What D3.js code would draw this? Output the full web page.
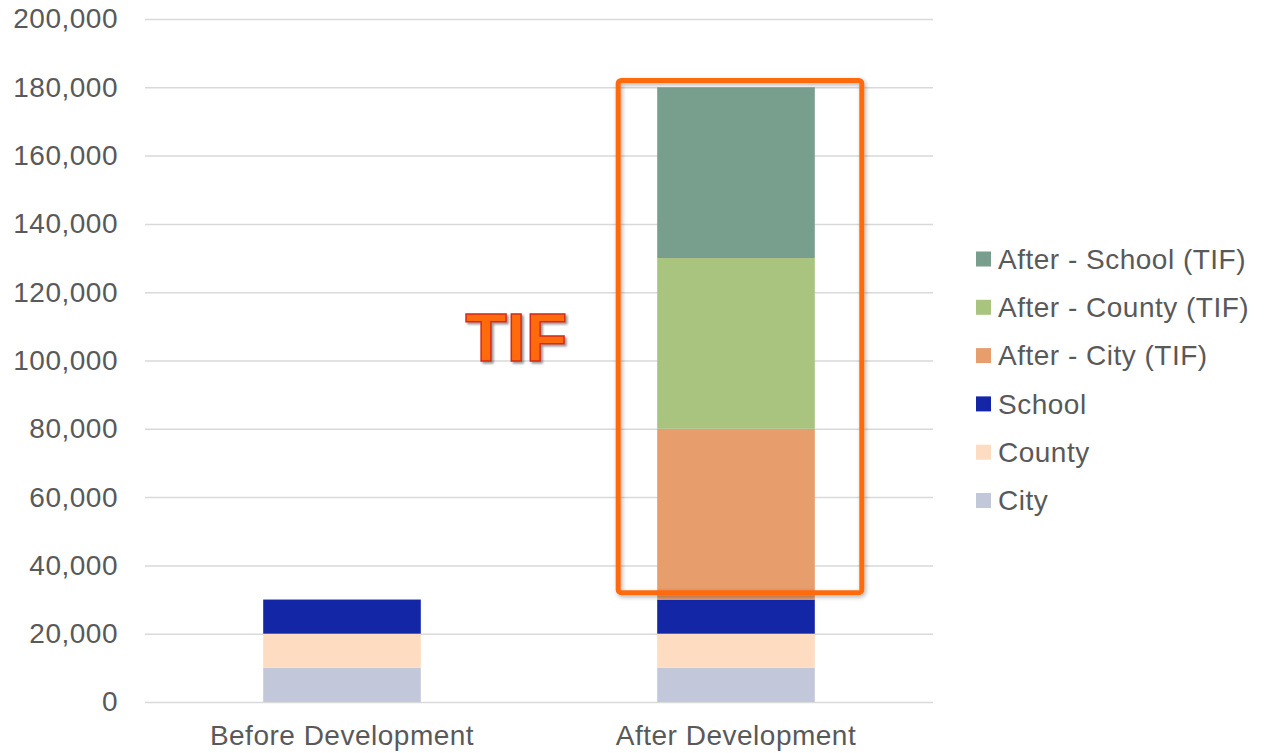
<!DOCTYPE html>
<html>
<head>
<meta charset="utf-8">
<script src="https://cdn.jsdelivr.net/npm/d3@7"></script>
<style>
  html, body { margin: 0; padding: 0; background: #fff; }
  svg { display: block; font-family: "Liberation Sans", Arial, sans-serif; }
</style>
</head>
<body>
<svg id="chart" width="1267" height="753"></svg>
<script>
const categories = ["Before Development", "After Development"];
const seriesNames = ["City", "County", "School", "After - City (TIF)", "After - County (TIF)", "After - School (TIF)"];
const seriesColors = ["#c2c7da", "#fddcc2", "#1226a6", "#e79d6c", "#a9c47f", "#789e8e"];
const cityValues = [10000, 10000];
const countyValues = [10000, 10000];
const schoolValues = [10000, 10000];
const afterCityValues = [0, 50000];
const afterCountyValues = [0, 50000];
const afterSchoolValues = [0, 50000];
const yTicks = [0, 20000, 40000, 60000, 80000, 100000, 120000, 140000, 160000, 180000, 200000];
const tifBox = { category: "After Development", from: 32000, to: 182000 };
const tifLabel = { text: "TIF", category: "After Development", value: 100000 };

const seriesValues = [cityValues, countyValues, schoolValues, afterCityValues, afterCountyValues, afterSchoolValues];
const table = categories.map((c, i) => {
  const row = { category: c };
  seriesNames.forEach((s, j) => row[s] = seriesValues[j][i]);
  return row;
});

const svg = d3.select("#chart");
const margin = { left: 145, right: 334, top: 19, bottom: 51 };
const W = 1267, H = 753;
const FS = 28, LS = "0.5px", TXT = "#595959";

const x = d3.scaleBand().domain(categories).range([margin.left, W - margin.right])
  .paddingInner(0.6).paddingOuter(0.3);
const y = d3.scaleLinear().domain([0, 200000]).range([H - margin.bottom, margin.top]);

const defs = svg.append("defs");
const f = defs.append("filter").attr("id", "shadow").attr("x", "-10%").attr("y", "-10%").attr("width", "130%").attr("height", "130%");
f.append("feDropShadow").attr("dx", 1.5).attr("dy", 2).attr("stdDeviation", 2).attr("flood-color", "#000").attr("flood-opacity", 0.3);
const f2 = defs.append("filter").attr("id", "tshadow").attr("x", "-10%").attr("y", "-10%").attr("width", "130%").attr("height", "130%");
f2.append("feDropShadow").attr("dx", 2).attr("dy", 2).attr("stdDeviation", 1).attr("flood-color", "#555").attr("flood-opacity", 0.6);

// grid
const yAxis = d3.axisLeft(y).tickValues(yTicks).tickFormat(d3.format(",")).tickSize(-(W - margin.right - margin.left)).tickPadding(27);
const gy = svg.append("g").attr("transform", `translate(${margin.left},0)`).call(yAxis);
gy.select(".domain").remove();
gy.selectAll(".tick line").attr("stroke", "#d9d9d9").attr("stroke-width", 1.5);
gy.selectAll(".tick text").attr("fill", TXT).attr("font-size", FS).attr("letter-spacing", LS)
  .attr("font-family", "Liberation Sans, Arial, sans-serif");

// bars
const stack = d3.stack().keys(seriesNames);
const stacked = stack(table);
svg.append("g").selectAll("g").data(stacked).join("g")
  .attr("fill", (d, i) => seriesColors[i])
  .selectAll("rect").data(d => d.filter(p => p[1] > p[0])).join("rect")
  .attr("x", d => x(d.data.category))
  .attr("width", x.bandwidth())
  .attr("y", d => y(d[1]))
  .attr("height", d => y(d[0]) - y(d[1]));

// x axis labels
const xAxis = d3.axisBottom(x).tickSize(0).tickPadding(23);
const gx = svg.append("g").attr("transform", `translate(0,${y(0)})`).call(xAxis);
gx.select(".domain").remove();
gx.selectAll(".tick text").attr("fill", TXT).attr("font-size", FS).attr("letter-spacing", LS)
  .attr("font-family", "Liberation Sans, Arial, sans-serif");

// TIF box
const bx0 = x(tifBox.category) - 39, bx1 = x(tifBox.category) + x.bandwidth() + 47;
svg.append("rect")
  .attr("x", bx0).attr("y", y(tifBox.to))
  .attr("width", bx1 - bx0).attr("height", y(tifBox.from) - y(tifBox.to))
  .attr("rx", 3)
  .attr("fill", "none").attr("stroke", "#ff6a10").attr("stroke-width", 5)
  .attr("filter", "url(#shadow)");

// TIF label
svg.append("text")
  .attr("x", x(tifLabel.category) - 90).attr("y", y(tifLabel.value) + 0)
  .attr("text-anchor", "end")
  .attr("font-size", 68).attr("font-weight", "bold")
  .attr("font-family", "Liberation Sans, Arial, sans-serif")
  .attr("fill", "#ff6a10").attr("stroke", "#d42a1a").attr("stroke-width", 1.5)
  .attr("filter", "url(#tshadow)")
  .text(tifLabel.text);

// legend
const legend = svg.append("g").attr("transform", "translate(976,259)");
const legendItems = seriesNames.map((s, i) => ({ name: s, color: seriesColors[i] })).reverse();
const li = legend.selectAll("g").data(legendItems).join("g")
  .attr("transform", (d, i) => `translate(0,${i * 48.3})`);
li.append("rect").attr("x", 0).attr("y", -7.5).attr("width", 15).attr("height", 15).attr("fill", d => d.color);
li.append("text").attr("x", 22).attr("y", 0).attr("dy", "0.35em")
  .attr("fill", TXT).attr("font-size", FS).attr("letter-spacing", LS)
  .text(d => d.name);
</script>
</body>
</html>
